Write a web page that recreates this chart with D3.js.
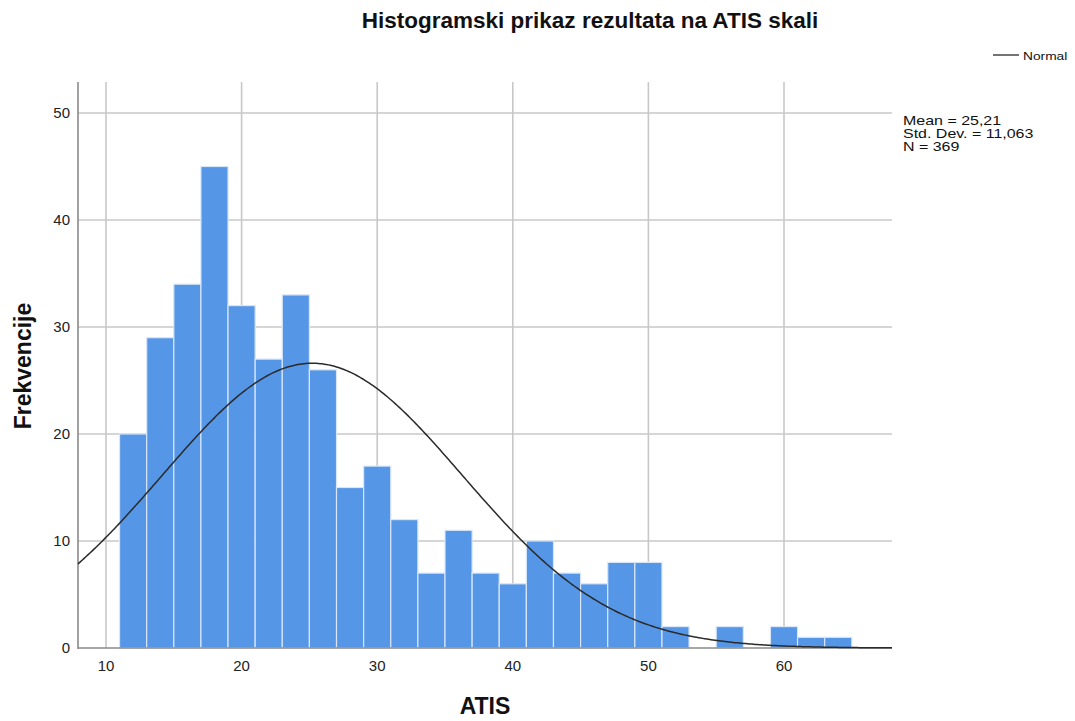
<!DOCTYPE html>
<html><head><meta charset="utf-8">
<script src="https://cdn.jsdelivr.net/npm/d3@7"></script>
<style>body{margin:0;background:#fff;font-family:Arial,"Liberation Sans",sans-serif;}</style>
</head><body>
<svg id="c" width="1075" height="721"></svg>
<script>
const binStarts = [11,13,15,17,19,21,23,25,27,29,31,33,35,37,39,41,43,45,47,49,51,53,55,57,59,61,63];
const counts    = [20,29,34,45,32,27,33,26,15,17,12,7,11,7,6,10,7,6,8,8,2,0,2,0,2,1,1];
const binWidth = 2;
const mean = 25.21, stdDev = 11.063, nTotal = 369;
const xTicks = [10,20,30,40,50,60];
const yTicks = [0,10,20,30,40,50];
const statLines = ["Mean = 25,21","Std. Dev. = 11,063","N = 369"];

(function(){
const svg = d3.select("#c");
const x = d3.scaleLinear().domain([10,60]).range([106,784]);
const y = d3.scaleLinear().domain([0,50]).range([648,113]);
const pL = 78, pR = 892, pT = 82, pB = 648;
const xMin = x.invert(pL), xMax = x.invert(pR);

svg.append("g").selectAll("line").data(yTicks.filter(d=>d>0)).join("line")
  .attr("x1",pL).attr("x2",pR).attr("y1",d=>y(d)).attr("y2",d=>y(d))
  .attr("stroke","#c8c8c8").attr("stroke-width",1.6);
svg.append("g").selectAll("line").data(xTicks).join("line")
  .attr("x1",d=>x(d)).attr("x2",d=>x(d)).attr("y1",pT).attr("y2",pB)
  .attr("stroke","#c8c8c8").attr("stroke-width",1.6);

svg.append("g").selectAll("rect").data(binStarts.map((s,i)=>({s,c:counts[i]}))).join("rect")
  .attr("x",d=>x(d.s)).attr("width",d=>x(d.s+binWidth)-x(d.s))
  .attr("y",d=>y(d.c)).attr("height",d=>y(0)-y(d.c))
  .attr("fill","#5596e6").attr("stroke","#d8e6f8").attr("stroke-width",1.2);

svg.append("line").attr("x1",pL).attr("x2",pL).attr("y1",pT).attr("y2",pB+1)
  .attr("stroke","#8a8a8a").attr("stroke-width",1.6);
svg.append("line").attr("x1",pL).attr("x2",pR).attr("y1",pB).attr("y2",pB)
  .attr("stroke","#8a8a8a").attr("stroke-width",1.6);

const pts = d3.range(0,401).map(i=>xMin+(xMax-xMin)*i/400);
const dens = v => nTotal*binWidth/(stdDev*Math.sqrt(2*Math.PI))*Math.exp(-0.5*((v-mean)/stdDev)**2);
svg.append("path").datum(pts)
  .attr("d",d3.line().x(v=>x(v)).y(v=>y(dens(v))))
  .attr("fill","none").attr("stroke","#2a2a2a").attr("stroke-width",1.5);

svg.append("g").selectAll("text").data(yTicks).join("text")
  .attr("x",70).attr("y",d=>y(d)).attr("dy","0.36em").attr("text-anchor","end")
  .attr("font-size",15).attr("fill","#222").text(d=>d);
svg.append("g").selectAll("text").data(xTicks).join("text")
  .attr("x",d=>x(d)).attr("y",671).attr("text-anchor","middle")
  .attr("font-size",15).attr("fill","#222").text(d=>d);

svg.append("text").attr("x",590).attr("y",28).attr("text-anchor","middle")
  .attr("font-size",22.5).attr("font-weight","bold").attr("fill","#111").text("Histogramski prikaz rezultata na ATIS skali");
svg.append("text").attr("x",485).attr("y",714).attr("text-anchor","middle")
  .attr("font-size",23).attr("font-weight","bold").attr("fill","#111").text("ATIS");
svg.append("text").attr("transform","translate(31,366) rotate(-90)").attr("text-anchor","middle")
  .attr("font-size",23).attr("font-weight","bold").attr("fill","#111").text("Frekvencije");

svg.append("line").attr("x1",993).attr("x2",1019).attr("y1",55).attr("y2",55)
  .attr("stroke","#444").attr("stroke-width",1.5);
svg.append("g").attr("transform","translate(1023,0) scale(1.25,1)")
  .append("text").attr("x",0).attr("y",60.5)
  .attr("font-size",11).attr("fill","#111").text("Normal");

svg.append("g").attr("transform","translate(903,0) scale(1.3,1)")
  .selectAll("text").data(statLines).join("text")
  .attr("x",0).attr("y",(d,i)=>125.5+i*13)
  .attr("font-size",12.3).attr("fill","#111").text(d=>d);
})();
</script>
</body></html>
